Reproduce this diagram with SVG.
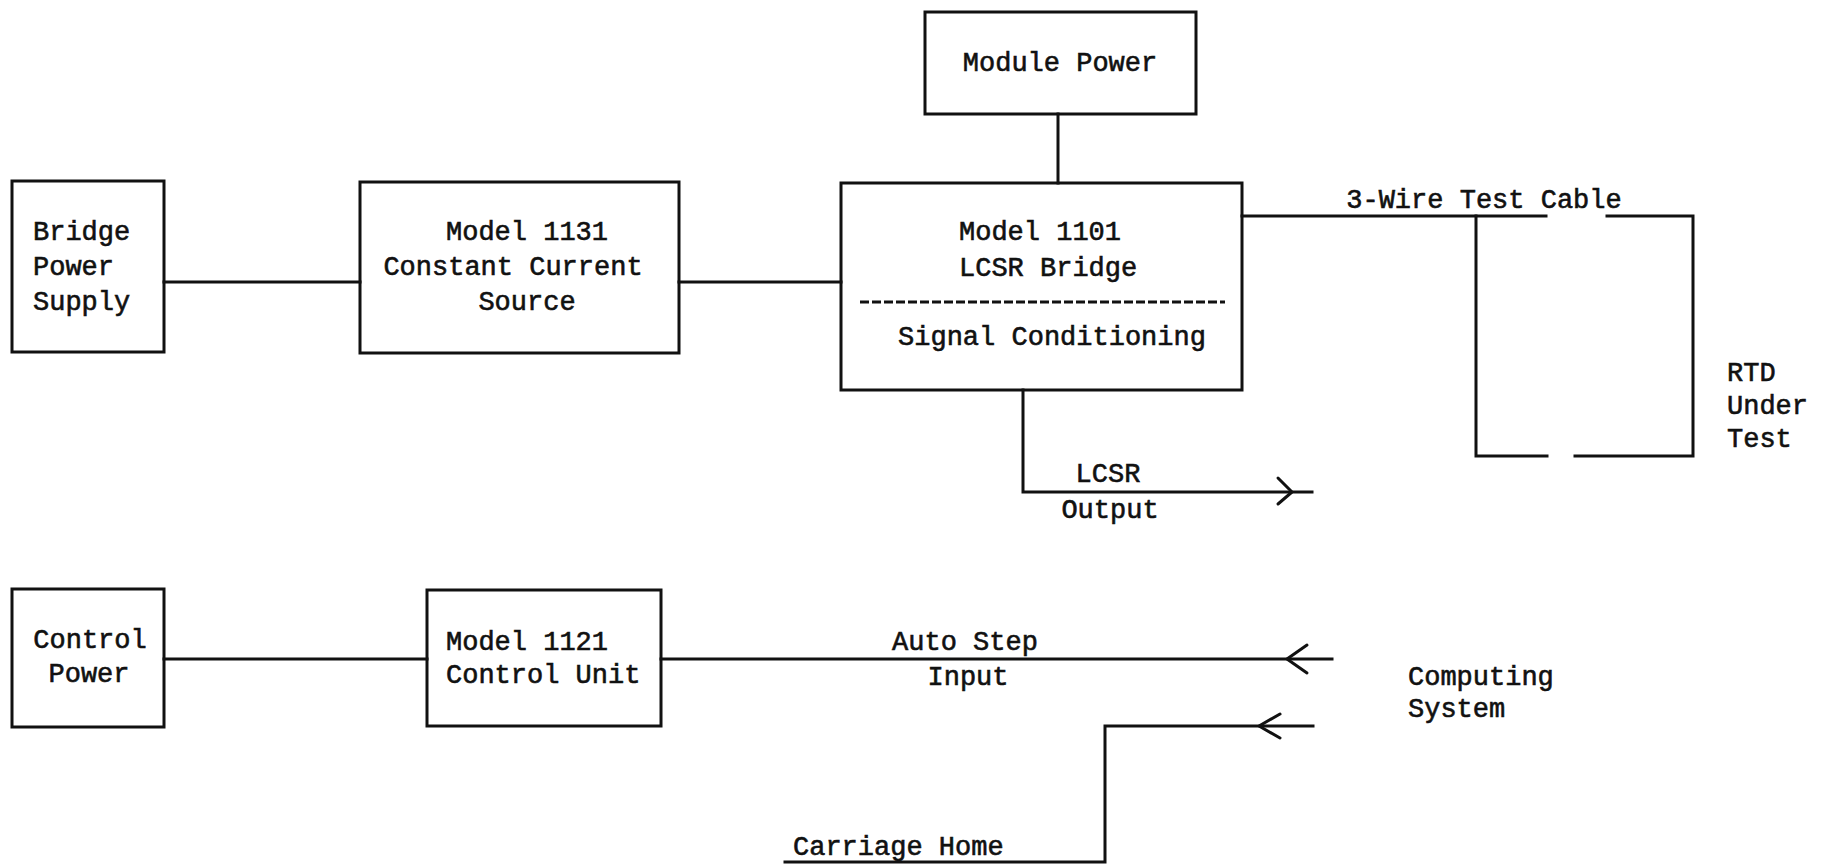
<svg xmlns="http://www.w3.org/2000/svg" width="1829" height="867" viewBox="0 0 1829 867">
<style>
  .box { fill: none; stroke: #111; stroke-width: 3; }
  .ln { fill: none; stroke: #111; stroke-width: 3; stroke-linecap: square; }
  .ah { fill: none; stroke: #111; stroke-width: 3; stroke-linecap: round; stroke-linejoin: round; }
  text { font-family: "Liberation Mono", "DejaVu Sans Mono", monospace; font-size: 27px; fill: #111; stroke: #111; stroke-width: 0.6; }
  .c { text-anchor: middle; }
</style>
<rect width="1829" height="867" fill="#fff"/>

<g id="bridge-power-supply">
  <rect class="box" x="12" y="181" width="152" height="171"/>
  <text x="33" y="240">Bridge</text>
  <text x="33" y="275">Power</text>
  <text x="33" y="310">Supply</text>
</g>

<g id="model-1131">
  <rect class="box" x="360" y="182" width="319" height="171"/>
  <text class="c" x="527" y="240">Model 1131</text>
  <text class="c" x="513" y="275">Constant Current</text>
  <text class="c" x="527" y="310">Source</text>
</g>

<g id="module-power">
  <rect class="box" x="925" y="12" width="271" height="102"/>
  <text class="c" x="1060" y="71">Module Power</text>
</g>

<g id="model-1101">
  <rect class="box" x="841" y="183" width="401" height="207"/>
  <text x="959" y="240">Model 1101</text>
  <text x="959" y="276">LCSR Bridge</text>
  <line x1="860" y1="302" x2="1225" y2="302" stroke="#111" stroke-width="3" stroke-dasharray="9,3"/>
  <text class="c" x="1052" y="345">Signal Conditioning</text>
</g>

<g id="rtd-under-test">
  <text x="1727" y="381">RTD</text>
  <text x="1727" y="414">Under</text>
  <text x="1727" y="447">Test</text>
</g>

<g id="control-power">
  <rect class="box" x="12" y="589" width="152" height="138"/>
  <text class="c" x="90" y="648">Control</text>
  <text class="c" x="89" y="682">Power</text>
</g>

<g id="model-1121">
  <rect class="box" x="427" y="590" width="234" height="136"/>
  <text x="446" y="650">Model 1121</text>
  <text x="446" y="683">Control Unit</text>
</g>

<g id="computing-system">
  <text x="1408" y="685">Computing</text>
  <text x="1408" y="717">System</text>
</g>

<g id="connectors">
  <line class="ln" x1="164" y1="282" x2="360" y2="282"/>
  <line class="ln" x1="679" y1="282" x2="841" y2="282"/>
  <line class="ln" x1="1058" y1="114" x2="1058" y2="183"/>
  <!-- 3-wire test cable -->
  <polyline class="ln" points="1242,216 1546,216"/>
  <polyline class="ln" points="1607,216 1693,216 1693,456 1575,456"/>
  <polyline class="ln" points="1547,456 1476,456 1476,216"/>
  <text class="c" x="1484" y="208">3-Wire Test Cable</text>
  <!-- LCSR output -->
  <polyline class="ln" points="1023,390 1023,492 1312,492"/>
  <polyline class="ah" points="1278,478 1292,492 1278,504"/>
  <text class="c" x="1108" y="482">LCSR</text>
  <text class="c" x="1110" y="518">Output</text>
  <!-- control -->
  <line class="ln" x1="164" y1="659" x2="427" y2="659"/>
  <line class="ln" x1="661" y1="659" x2="1332" y2="659"/>
  <polyline class="ah" points="1307,645 1287,659 1307,673"/>
  <text class="c" x="965" y="650">Auto Step</text>
  <text class="c" x="968" y="685">Input</text>
  <polyline class="ln" points="1313,726 1105,726 1105,862 785,862"/>
  <polyline class="ah" points="1280,714 1259,726 1280,738"/>
  <text x="793" y="855">Carriage Home</text>
</g>
</svg>
